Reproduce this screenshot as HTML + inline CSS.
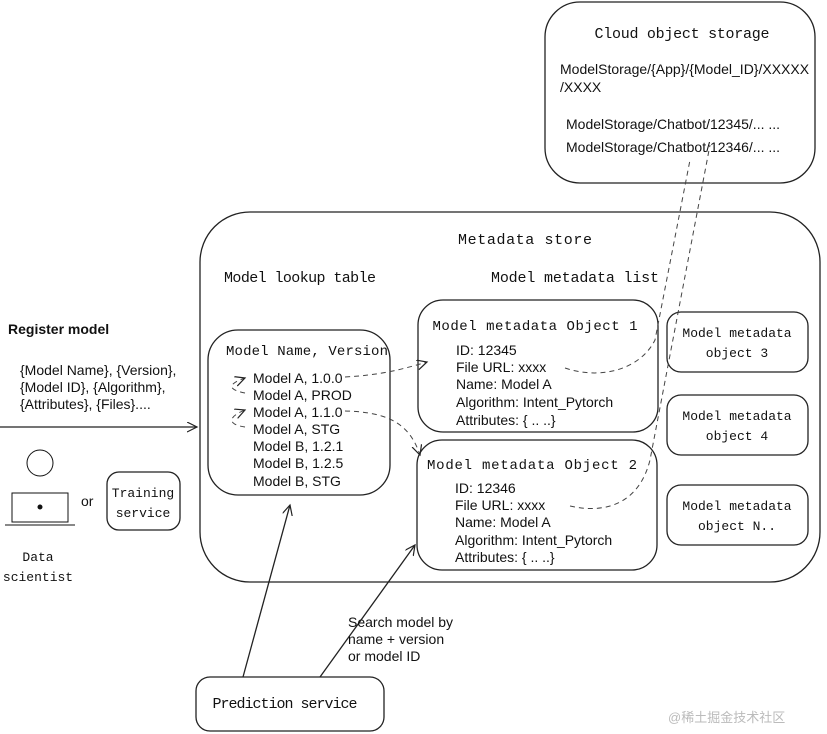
<!DOCTYPE html>
<html><head><meta charset="utf-8"><style>
body{margin:0;background:#fff;}
svg{display:block;}
.h{font-family:"Liberation Mono","DejaVu Sans Mono",monospace;font-size:15px;fill:#111;}
.s{font-family:"Liberation Mono","DejaVu Sans Mono",monospace;font-size:13px;fill:#111;}
.m{font-family:"Liberation Mono","DejaVu Sans Mono",monospace;font-size:14px;fill:#111;}
.t{font-family:"Liberation Sans",sans-serif;font-size:14px;fill:#111;}
</style></head><body>
<svg width="827" height="734" viewBox="0 0 827 734" xmlns="http://www.w3.org/2000/svg">
<defs><marker id="a" markerWidth="12" markerHeight="12" refX="10" refY="5" orient="auto" markerUnits="userSpaceOnUse"><path d="M0,0 L10,5 L0,10" fill="none" stroke="#222" stroke-width="1.2"/></marker></defs>
<g fill="none" stroke="#222" stroke-width="1.3">
<rect x="545" y="2" width="270" height="181" rx="35"/>
<rect x="200" y="212" width="620" height="370" rx="50"/>
<rect x="208" y="330" width="182" height="165" rx="30"/>
<rect x="418" y="300" width="240" height="132" rx="25"/>
<rect x="417" y="440" width="240" height="130" rx="25"/>
<rect x="667" y="312" width="141" height="60" rx="14"/>
<rect x="667" y="395" width="141" height="60" rx="14"/>
<rect x="667" y="485" width="141" height="60" rx="14"/>
<rect x="107" y="472" width="73" height="58" rx="12"/>
<rect x="196" y="677" width="188" height="54" rx="14"/>
<path d="M0,427 L197,427" marker-end="url(#a)"/>
<path d="M243,677 L290,505" marker-end="url(#a)"/>
<path d="M320,677 L415,545" marker-end="url(#a)"/>
</g>
<g fill="none" stroke="#444" stroke-width="1" stroke-dasharray="5,4">
<path d="M345,377 C380,375 400,370 427,362" marker-end="url(#a)"/>
<path d="M345,411 C390,412 410,425 420,455" marker-end="url(#a)"/>
<path d="M245,393 C230,390 225,385 245,378" marker-end="url(#a)"/>
<path d="M245,427 C230,425 225,418 245,410" marker-end="url(#a)"/>
<path d="M565,368 C600,380 640,370 655,340 L690,160"/>
<path d="M570,506 C610,515 640,500 650,460 L710,145"/>
</g>
<g fill="#111" stroke="#111" stroke-width="1">
<circle cx="40" cy="463" r="13" fill="none"/>
<path d="M12,493 L68,493 L68,522 L12,522 Z" fill="none"/>
<path d="M5,525 L75,525" />
<circle cx="40" cy="507" r="2"/>
</g>
<text class="h" x="682" y="38" text-anchor="middle" textLength="175">Cloud object storage</text>
<text class="t" x="560" y="74">ModelStorage/{App}/{Model_ID}/XXXXX</text>
<text class="t" x="560" y="92">/XXXX</text>
<text class="t" x="566" y="129">ModelStorage/Chatbot/12345/... ...</text>
<text class="t" x="566" y="152">ModelStorage/Chatbot/12346/... ...</text>
<text class="h" x="525" y="244" text-anchor="middle" textLength="134">Metadata store</text>
<text class="h" x="300" y="282" text-anchor="middle" textLength="152">Model lookup table</text>
<text class="h" x="575" y="282" text-anchor="middle" textLength="168">Model metadata list</text>
<text class="m" x="307" y="355" text-anchor="middle" textLength="162">Model Name, Version</text>
<text class="t" x="253" y="383">Model A, 1.0.0</text><text class="t" x="253" y="400">Model A, PROD</text><text class="t" x="253" y="417">Model A, 1.1.0</text><text class="t" x="253" y="434">Model A, STG</text><text class="t" x="253" y="451">Model B, 1.2.1</text><text class="t" x="253" y="468">Model B, 1.2.5</text><text class="t" x="253" y="486">Model B, STG</text>
<text class="m" x="535" y="330" text-anchor="middle" textLength="205">Model metadata Object 1</text>
<text class="t" x="456" y="355">ID: 12345</text><text class="t" x="456" y="372">File URL: xxxx</text><text class="t" x="456" y="389">Name: Model A</text><text class="t" x="456" y="407">Algorithm: Intent_Pytorch</text><text class="t" x="456" y="425">Attributes: { .. ..}</text>
<text class="m" x="532" y="469" text-anchor="middle" textLength="210">Model metadata Object 2</text>
<text class="t" x="455" y="493">ID: 12346</text><text class="t" x="455" y="510">File URL: xxxx</text><text class="t" x="455" y="527">Name: Model A</text><text class="t" x="455" y="545">Algorithm: Intent_Pytorch</text><text class="t" x="455" y="562">Attributes: { .. ..}</text>
<text class="s" x="737" y="337" text-anchor="middle">Model metadata</text><text class="s" x="737" y="357" text-anchor="middle">object 3</text>
<text class="s" x="737" y="420" text-anchor="middle">Model metadata</text><text class="s" x="737" y="440" text-anchor="middle">object 4</text>
<text class="s" x="737" y="510" text-anchor="middle">Model metadata</text><text class="s" x="737" y="530" text-anchor="middle">object N..</text>
<text class="t" x="8" y="334" font-weight="bold">Register model</text>
<text class="t" x="20" y="375">{Model Name}, {Version},</text>
<text class="t" x="20" y="392">{Model ID}, {Algorithm},</text>
<text class="t" x="20" y="409">{Attributes}, {Files}....</text>
<text class="t" x="81" y="506">or</text>
<text class="s" x="143" y="497" text-anchor="middle">Training</text><text class="s" x="143" y="517" text-anchor="middle">service</text>
<text class="s" x="38" y="561" text-anchor="middle">Data</text><text class="s" x="38" y="581" text-anchor="middle">scientist</text>
<text class="t" x="348" y="627">Search model by</text><text class="t" x="348" y="644">name + version</text><text class="t" x="348" y="661">or model ID</text>
<text class="h" x="285" y="708" text-anchor="middle" textLength="145">Prediction service</text>
<text x="668" y="722" font-family="'Liberation Sans','Noto Sans CJK SC',sans-serif" font-size="13" fill="#bbb">@稀土掘金技术社区</text>
</svg>
</body></html>
